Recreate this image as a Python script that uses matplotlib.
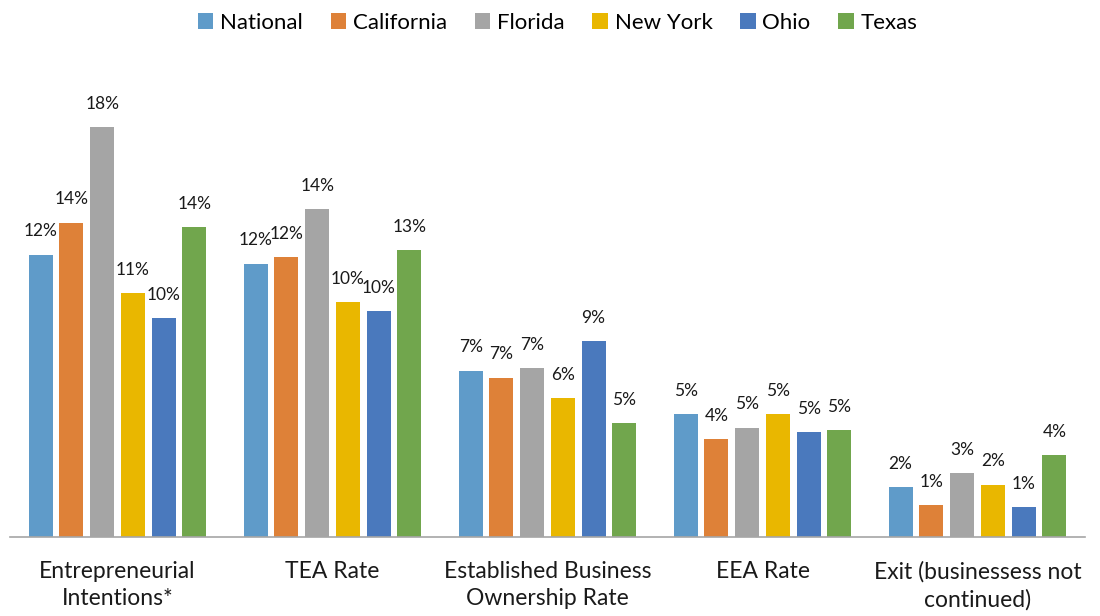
import numpy as np
import matplotlib
matplotlib.use("Agg")
import matplotlib.pyplot as plt

plt.rcParams['font.family'] = ['Lato', 'DejaVu Sans']

categories = ["Entrepreneurial\nIntentions*", "TEA Rate", "Established Business\nOwnership Rate",
              "EEA Rate", "Exit (businessess not\ncontinued)"]
regions = ["National", "California", "Florida", "New York", "Ohio", "Texas"]

national   = [12.4, 12.0, 7.3, 5.4, 2.2]
california = [13.8, 12.3, 7.0, 4.3, 1.4]
florida    = [18.0, 14.4, 7.4, 4.8, 2.8]
new_york   = [10.7, 10.3, 6.1, 5.4, 2.3]
ohio       = [9.6, 9.9, 8.6, 4.6, 1.3]
texas      = [13.6, 12.6, 5.0, 4.7, 3.6]

series = [national, california, florida, new_york, ohio, texas]
colors = ["#5F9BC9", "#DE8138", "#A5A5A5", "#E9B700", "#4A79BD", "#71A64D"]

fig = plt.figure(figsize=(11, 6.16), dpi=100)
ax = fig.add_axes([10 / 1100, 79 / 616, 1075 / 1100, 455.6 / 616])

x = np.arange(len(categories))
width = 0.112
pitch = 0.143
offsets = (np.arange(len(regions)) - 2.5) * pitch

for vals, off, col, name in zip(series, offsets, colors, regions):
    bars = ax.bar(x + off, vals, width=width, color=col, label=name)
    for b, v in zip(bars, vals):
        ax.annotate(f"{v:.0f}%", (b.get_x() + b.get_width() / 2, v),
                    xytext=(0, 11), textcoords="offset points",
                    ha="center", va="bottom", fontsize=12.5, color="#1a1a1a")

ax.set_xlim(-0.5, 4.5)
ax.set_ylim(0, 20)
ax.set_xticks(x)
ax.set_xticklabels(categories, fontsize=16.5, color="#1a1a1a", linespacing=1.4)
ax.tick_params(axis="x", length=0, pad=17)
ax.set_yticks([])
for s in ["top", "left", "right"]:
    ax.spines[s].set_visible(False)
ax.spines["bottom"].set_color("#A6A6A6")
ax.spines["bottom"].set_linewidth(1.2)

fig.legend(loc="center", bbox_to_anchor=(0.507, 0.963), ncol=6, frameon=False,
           fontsize=16, handlelength=0.7, handleheight=0.7, handletextpad=0.3,
           columnspacing=1.25)

fig.savefig("out.png", dpi=100)
